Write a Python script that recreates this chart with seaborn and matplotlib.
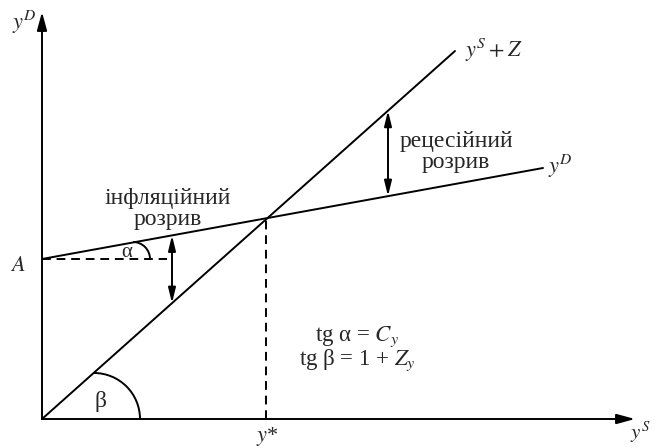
import numpy as np
import matplotlib
matplotlib.use("Agg")
import matplotlib.pyplot as plt
from matplotlib.patches import Arc
import seaborn as sns

# coordinates of the diagram (origin = intersection of axes)
A = 160
ys_z_x = [0, 413]          # y^S + Z line
ys_z_y = [0, 368]
yd_x = [0, 501]            # y^D line
yd_y = [A, 251]
eq_x = 224                 # y*
infl_x = 130               # inflationary gap position
rec_x = 346                # recessionary gap position
x_axis_end = 593
y_axis_end = 407

label_infl = "інфляційний\nрозрив"
label_rec = "рецесійний\nрозрив"
formula_1 = r"tg α = $C_y$"
formula_2 = r"tg β = 1 + $Z_y$"

sns.set_style("white")
plt.rcParams["font.family"] = "serif"
plt.rcParams["font.serif"] = ["Liberation Serif", "DejaVu Serif"]
plt.rcParams["mathtext.fontset"] = "stix"
serif = ["Liberation Serif", "DejaVu Serif"]

fig = plt.figure(figsize=(6.58, 4.48), dpi=100)
ax = fig.add_axes([0, 0, 1, 1])
ax.set_xlim(-42, 616)
ax.set_ylim(-29, 419)
ax.axis("off")

lw = 1.4
slope_s = ys_z_y[1] / ys_z_x[1]
slope_d = (yd_y[1] - yd_y[0]) / (yd_x[1] - yd_x[0])
eq_y = A + slope_d * eq_x

# main lines
sns.lineplot(x=ys_z_x, y=ys_z_y, color="black", lw=lw, sort=False, estimator=None, ax=ax)
sns.lineplot(x=yd_x, y=yd_y, color="black", lw=lw, sort=False, estimator=None, ax=ax)

# dashed guides
dash = (0, (4.5, 3))
sns.lineplot(x=[eq_x, eq_x], y=[0, eq_y], color="black", lw=lw, ls=dash,
             sort=False, estimator=None, ax=ax)
sns.lineplot(x=[0, 125], y=[A, A], color="black", lw=lw, ls=dash,
             sort=False, estimator=None, ax=ax)

# axes with arrows
ax.annotate("", xy=(x_axis_end, 0), xytext=(0, 0),
            arrowprops=dict(arrowstyle="-|>,head_length=1.1,head_width=0.3",
                            color="black", lw=lw, shrinkA=0, shrinkB=0))
ax.annotate("", xy=(0, y_axis_end), xytext=(0, 0),
            arrowprops=dict(arrowstyle="-|>,head_length=1.1,head_width=0.3",
                            color="black", lw=lw, shrinkA=0, shrinkB=0))

# gap arrows
for gx in [infl_x, rec_x]:
    ax.annotate("", xy=(gx, A + slope_d * gx), xytext=(gx, slope_s * gx),
                arrowprops=dict(arrowstyle="<|-|>,head_length=0.9,head_width=0.22",
                                color="black", lw=lw, shrinkA=0, shrinkB=0))

# angle arcs
ax.add_patch(Arc((91, A), 34, 34, theta1=0, theta2=90, color="black", lw=lw))
ax.add_patch(Arc((52, 0), 92, 92, theta1=0, theta2=90, color="black", lw=lw))

fs = 17
ax.text(85, 167, "α", fontsize=15, family=serif, ha="center", va="center")
ax.text(58, 18, "β", fontsize=17, family=serif, ha="center", va="center")
ax.text(-24, 153, "$A$", fontsize=16, ha="center", va="center")
ax.text(-18, 397, "$y^D$", fontsize=16, ha="center", va="center")
ax.text(423, 369, "$y^S + Z$", fontsize=16, ha="left", va="center")
ax.text(506, 253, "$y^D$", fontsize=16, ha="left", va="center")
ax.text(588, -14, "$y^S$", fontsize=15, ha="left", va="center")
ax.text(225, -17, "$y$*", fontsize=16, ha="center", va="center")
ax.text(126, 210, label_infl, fontsize=fs, family=serif, ha="center", va="center",
        linespacing=1.0)
ax.text(414, 267, label_rec, fontsize=fs, family=serif, ha="center", va="center",
        linespacing=1.0)
ax.text(315, 82, formula_1, fontsize=16.5, family=serif, ha="center", va="center")
ax.text(315, 59, formula_2, fontsize=16.5, family=serif, ha="center", va="center")

fig.savefig("out.png", dpi=100)
